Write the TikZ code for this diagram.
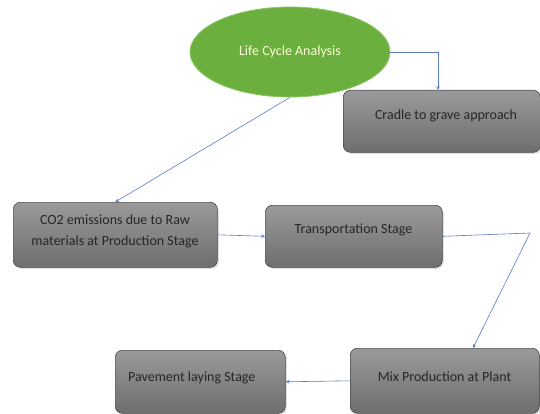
\documentclass[tikz,border=0pt]{standalone}
\usepackage{fontspec}
\setmainfont{Carlito}
\usetikzlibrary{shapes.geometric,arrows.meta,shadows}
\definecolor{boxtop}{HTML}{9A9A9A}
\definecolor{boxbot}{HTML}{6E6E6E}
\definecolor{boxline}{HTML}{4A4A4A}
\definecolor{ellfill}{HTML}{6BAF3E}
\definecolor{ellline}{HTML}{8CC864}
\definecolor{conn}{HTML}{5B7BC8}
\definecolor{boxtext}{HTML}{262626}
\tikzset{
  stagebox/.style={draw=boxline, line width=0.6pt, rounded corners=7pt,
    top color=boxtop, bottom color=boxbot, drop shadow={opacity=0.25,shadow xshift=1.5pt,shadow yshift=-1.5pt},
    inner sep=0pt},
  stagetext/.style={font=\fontsize{14}{21}\selectfont, text=boxtext, align=center, inner sep=0pt},
  conline/.style={draw=conn, line width=0.6pt},
  conarrow/.style={conline, -{Stealth[length=4pt,width=3.5pt]}},
}
\begin{document}
\begin{tikzpicture}[x=1pt,y=-1pt]
\useasboundingbox (0,0) rectangle (540,414);
\node[ellipse, draw=ellline, line width=0.8pt, fill=ellfill, minimum width=200pt, minimum height=90pt,
  text=yellow!15, font=\fontsize{14}{17}\selectfont] (lca) at (290,52) {Life Cycle Analysis};
\node[stagebox, minimum width=197pt, minimum height=62pt, anchor=north west] (cradle) at (343,90) {};
\node[stagetext] (cradlet) at (446,116) {Cradle to grave approach};
\node[stagebox, minimum width=204pt, minimum height=65pt, anchor=north west] (co2) at (13,202) {};
\node[stagetext] (co2t) at (115,231) {CO2 emissions due to Raw\\materials at Production Stage};
\node[stagebox, minimum width=177pt, minimum height=62pt, anchor=north west] (trans) at (265,205) {};
\node[stagetext] (transt) at (353.5,230) {Transportation Stage};
\node[stagebox, minimum width=189pt, minimum height=65pt, anchor=north west] (mix) at (350,348) {};
\node[stagetext] (mixt) at (444.5,377) {Mix Production at Plant};
\node[stagebox, minimum width=170pt, minimum height=63pt, anchor=north west] (pave) at (115,350) {};
\node[stagetext, anchor=west] (pavet) at (128,378) {Pavement laying Stage};
\coordinate (c1) at (438,52);
\coordinate (c2) at (530,233);
\draw[conarrow] (lca.east) -- (c1) -- (cradle.north -| c1);
\draw[conarrow] (lca.south) -- (co2.north);
\draw[conarrow] (co2.east) -- (trans.west);
\draw[conarrow] (trans.east) -- (c2) -- (473,348);
\draw[conarrow] (mix.west) -- (pave.east);
\end{tikzpicture}
\end{document}
